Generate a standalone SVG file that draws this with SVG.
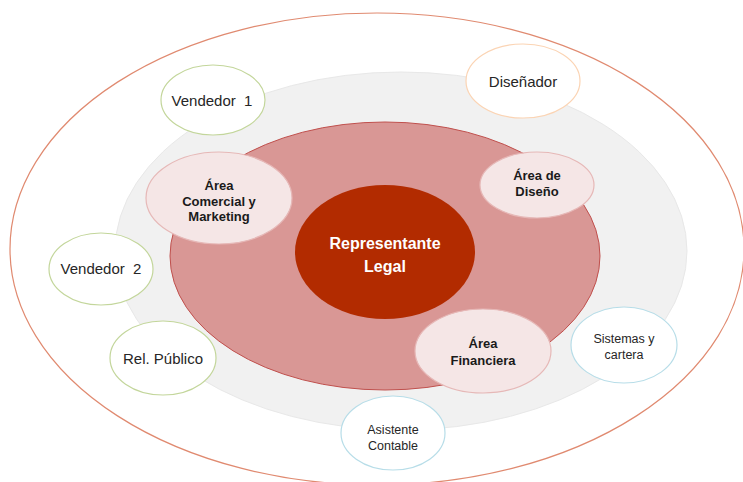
<svg xmlns="http://www.w3.org/2000/svg" width="743" height="482" viewBox="0 0 743 482">
<style>
text{font-family:"Liberation Sans",Arial,sans-serif;text-anchor:middle}
.b{font-weight:bold;font-size:13px;fill:#1a1a1a}
.n{font-size:15px;fill:#262626}
.s{font-size:12.5px;fill:#262626}
.area{fill:#f5e6e6;stroke:#e6b8b7;stroke-width:1.2}
.g{fill:#fff;stroke:#c3d69b;stroke-width:1.2}
.o{fill:#fff;stroke:#fbd4b4;stroke-width:1.2}
.bl{fill:#fff;stroke:#b7dde8;stroke-width:1.2}
</style>
<rect width="743" height="482" fill="#fff"/>
<g id="ring-outer"><ellipse cx="377" cy="249" rx="367" ry="236" fill="#fff" stroke="#e08a70" stroke-width="1.2"/></g>
<g id="ring-gray"><ellipse cx="401" cy="251" rx="286" ry="179" fill="#f1f1f1" stroke="#e8e8e8" stroke-width="1"/></g>
<g id="ring-pink"><ellipse cx="385" cy="256" rx="215" ry="134" fill="#d99795" stroke="#c0504d" stroke-width="1"/></g>
<g id="connectors"/>
<g id="representante"><ellipse cx="385" cy="252" rx="90" ry="67" fill="#b22b00"/>
<text x="385" y="249" font-weight="bold" font-size="16" fill="#fff">Representante</text>
<text x="385" y="272" font-weight="bold" font-size="16" fill="#fff">Legal</text></g>
<g id="area-comercial"><ellipse class="area" cx="219" cy="198" rx="73" ry="46"/>
<text class="b" x="219" y="190">Área</text><text class="b" x="219" y="206">Comercial y</text><text class="b" x="219" y="221">Marketing</text></g>
<g id="area-diseno"><ellipse class="area" cx="537" cy="185" rx="57" ry="33"/>
<text class="b" x="537" y="180">Área de</text><text class="b" x="537" y="196">Diseño</text></g>
<g id="area-financiera"><ellipse class="area" cx="483" cy="351" rx="68" ry="42"/>
<text class="b" x="483" y="348">Área</text><text class="b" x="483" y="365">Financiera</text></g>
<g id="vendedor1"><ellipse class="g" cx="213" cy="100" rx="52" ry="35"/><text class="n" x="212" y="106" xml:space="preserve">Vendedor  1</text></g>
<g id="disenador"><ellipse class="o" cx="523" cy="81" rx="57" ry="37"/><text class="n" x="523" y="87" font-size="16">Diseñador</text></g>
<g id="vendedor2"><ellipse class="g" cx="101" cy="269" rx="52" ry="36"/><text class="n" x="101" y="274" xml:space="preserve">Vendedor  2</text></g>
<g id="rel-publico"><ellipse class="g" cx="163" cy="358" rx="53" ry="37"/><text class="n" x="163" y="364">Rel. Público</text></g>
<g id="sistemas"><ellipse class="bl" cx="624" cy="345" rx="53" ry="38"/><text class="s" x="624" y="343">Sistemas y</text><text class="s" x="624" y="359">cartera</text></g>
<g id="asistente"><ellipse class="bl" cx="393" cy="433" rx="52" ry="37"/><text class="s" x="393" y="434">Asistente</text><text class="s" x="393" y="450">Contable</text></g>
</svg>
